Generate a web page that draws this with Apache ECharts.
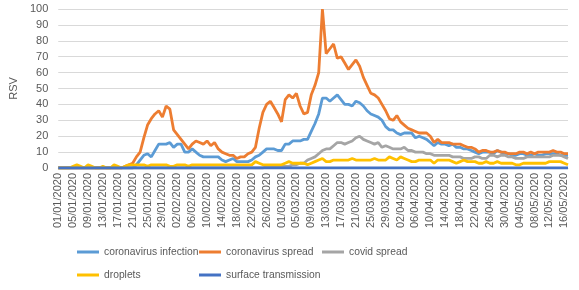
<!DOCTYPE html>
<html>
<head>
<meta charset="utf-8">
<script src="https://cdn.jsdelivr.net/npm/echarts@6/dist/echarts.min.js"></script>
<style>
html,body{margin:0;padding:0;background:#fff;}
#chart{width:579px;height:290px;}
</style>
</head>
<body>
<div id="chart"></div>
<script>
var categories = [
"01/01/2020","02/01/2020","03/01/2020","04/01/2020","05/01/2020","06/01/2020","07/01/2020","08/01/2020","09/01/2020","10/01/2020",
"11/01/2020","12/01/2020","13/01/2020","14/01/2020","15/01/2020","16/01/2020","17/01/2020","18/01/2020","19/01/2020","20/01/2020",
"21/01/2020","22/01/2020","23/01/2020","24/01/2020","25/01/2020","26/01/2020","27/01/2020","28/01/2020","29/01/2020","30/01/2020",
"31/01/2020",
"01/02/2020","02/02/2020","03/02/2020","04/02/2020","05/02/2020","06/02/2020","07/02/2020","08/02/2020","09/02/2020","10/02/2020",
"11/02/2020","12/02/2020","13/02/2020","14/02/2020","15/02/2020","16/02/2020","17/02/2020","18/02/2020","19/02/2020","20/02/2020",
"21/02/2020","22/02/2020","23/02/2020","24/02/2020","25/02/2020","26/02/2020","27/02/2020","28/02/2020","29/02/2020",
"01/03/2020","02/03/2020","03/03/2020","04/03/2020","05/03/2020","06/03/2020","07/03/2020","08/03/2020","09/03/2020","10/03/2020",
"11/03/2020","12/03/2020","13/03/2020","14/03/2020","15/03/2020","16/03/2020","17/03/2020","18/03/2020","19/03/2020","20/03/2020",
"21/03/2020","22/03/2020","23/03/2020","24/03/2020","25/03/2020","26/03/2020","27/03/2020","28/03/2020","29/03/2020","30/03/2020",
"31/03/2020",
"01/04/2020","02/04/2020","03/04/2020","04/04/2020","05/04/2020","06/04/2020","07/04/2020","08/04/2020","09/04/2020","10/04/2020",
"11/04/2020","12/04/2020","13/04/2020","14/04/2020","15/04/2020","16/04/2020","17/04/2020","18/04/2020","19/04/2020","20/04/2020",
"21/04/2020","22/04/2020","23/04/2020","24/04/2020","25/04/2020","26/04/2020","27/04/2020","28/04/2020","29/04/2020","30/04/2020",
"01/05/2020","02/05/2020","03/05/2020","04/05/2020","05/05/2020","06/05/2020","07/05/2020","08/05/2020","09/05/2020","10/05/2020",
"11/05/2020","12/05/2020","13/05/2020","14/05/2020","15/05/2020","16/05/2020","17/05/2020"
];

var seriesNames = ["coronavirus infection","coronavirus spread","covid spread","droplets","surface transmission"];
var seriesColors = ["#5B9BD5","#ED7D31","#A5A5A5","#FFC000","#4472C4"];

var coronavirusInfection = [
0,0,0,0,0,0,0,0,0,0, 0,0,0,0,0,0,0,0,0,0,
0,2,5,8,9,7,11,15,15,15, 16,13,15,15,10,10,12,10,8,7,
7,7,7,7,5,4,5,6,4,4, 4,4,5,7,8,10,12,12,12,11,
11,15,15,17,17,17,18,18,23,28, 34,44,44,42,44,46,43,40,40,39,
42,41,39,36,34,33,32,30,26,24, 24,22,21,22,22,22,19,20,19,18,
16,14,16,15,15,14,15,13,13,12, 12,11,10,9,10,10,10,9,11,10,
9,9,8,8,9,9,8,8,9,8, 8,9,9,9,9,8,8,8
];

var coronavirusSpread = [
0,0,0,0,0,0,0,0,0,0, 0,0,0,0,0,0,0,0,1,2,
3,7,10,19,27,31,34,36,32,39, 37,24,21,18,15,12,15,17,16,15,
17,14,16,12,10,9,8,8,6,7, 7,9,10,13,25,35,40,42,38,34,
29,43,46,44,47,39,34,35,46,52, 60,100,72,75,78,69,70,66,62,65,
68,64,57,52,47,46,44,40,36,31, 30,33,29,27,25,24,23,22,22,22,
20,16,18,16,16,16,15,15,15,14, 13,13,12,10,11,11,10,10,11,10,
10,9,9,9,10,10,9,10,9,10, 10,10,10,11,10,10,9,9
];

var covidSpread = [
0,0,0,0,0,0,0,0,0,0, 0,0,0,0,0,0,0,0,0,0,
0,0,0,0,0,0,0,0,0,0, 0,0,0,0,0,0,0,0,0,0,
0,0,0,0,0,0,0,0,0,0, 0,0,0,0,0,0,1,1,1,1,
1,1,1,2,2,3,3,5,6,7, 9,11,12,12,14,16,16,15,16,17,
19,20,18,17,16,15,16,13,14,13, 12,12,12,13,11,11,10,10,10,9,
9,8,8,8,8,8,7,7,7,6, 6,6,7,7,6,6,8,8,7,8,
8,7,7,6,6,6,7,7,7,7, 7,7,7,8,8,8,7,6
];

var droplets = [
0,0,0,0,1,2,1,0,2,1, 0,0,1,0,0,2,1,0,1,2,
2,2,2,2,1,2,2,2,2,2, 1,1,2,2,2,1,2,2,2,2,
2,2,2,2,2,2,2,2,2,2, 2,2,2,4,3,2,2,2,2,2,
2,3,4,3,3,3,3,2,3,4, 5,6,4,4,5,5,5,5,5,6,
5,5,5,5,5,6,5,5,5,7, 6,5,7,6,5,4,4,5,5,5,
5,3,5,5,5,5,4,3,4,5, 4,4,4,3,3,4,3,3,4,3,
3,3,3,2,2,3,3,3,3,3, 3,3,4,4,4,4,3,2
];

var surfaceTransmission = [
0,0,0,0,0,0,0,0,0,0, 0,0,0,0,0,0,0,0,0,0,
0,0,0,0,0,0,0,0,0,0, 0,0,0,0,0,0,0,0,0,0,
0,0,0,0,0,0,0,0,0,0, 0,0,0,0,0,0,0,0,0,0,
0,0,0,0,0,0,0,0,0,0, 0,0,0,0,0,0,0,0,0,0,
0,0,0,0,0,0,0,0,0,0, 0,0,0,0,0,0,0,0,0,0,
0,0,0,0,0,0,0,0,0,0, 0,0,0,0,0,0,0,0,0,0,
0,0,0,0,0,0,0,0,0,0, 0,0,0,0,0,0,0,0
];

var yTicks = [0,10,20,30,40,50,60,70,80,90,100];

var allData = [coronavirusInfection, coronavirusSpread, covidSpread, droplets, surfaceTransmission];
var FONT = "'Liberation Sans', Arial, sans-serif";

var legendPos = [
  {left: 77, top: 247},
  {left: 199, top: 247},
  {left: 322, top: 247},
  {left: 77, top: 270},
  {left: 199, top: 270}
];

var chart = echarts.init(document.getElementById('chart'), null, {renderer: 'canvas'});
var option = {
  animation: false,
  backgroundColor: '#ffffff',
  grid: {left: 56, right: 11, top: 9, bottom: 122, containLabel: false},
  legend: seriesNames.map(function (n, i) {
    return {
      data: [n],
      left: legendPos[i].left,
      top: legendPos[i].top,
      icon: 'rect',
      itemWidth: 22,
      itemHeight: 3,
      padding: 0,
      textStyle: {fontFamily: FONT, fontSize: 10.3, color: '#595959'}
    };
  }),
  xAxis: {
    type: 'category',
    data: categories,
    boundaryGap: false,
    axisLine: {show: true, lineStyle: {color: '#D9D9D9'}},
    axisTick: {show: false},
    axisLabel: {
      interval: 3,
      rotate: 90,
      margin: 5,
      fontFamily: FONT,
      fontSize: 11,
      color: '#595959'
    },
    splitLine: {show: false}
  },
  yAxis: {
    type: 'value',
    min: yTicks[0],
    max: yTicks[yTicks.length - 1],
    interval: 10,
    name: 'RSV',
    nameLocation: 'middle',
    nameRotate: 90,
    nameGap: 34,
    nameTextStyle: {fontFamily: FONT, fontSize: 11, color: '#595959'},
    axisLine: {show: false},
    axisTick: {show: false},
    axisLabel: {margin: 10, fontFamily: FONT, fontSize: 11, color: '#595959'},
    splitLine: {lineStyle: {color: '#D9D9D9', width: 1}}
  },
  series: seriesNames.map(function (n, i) {
    return {
      name: n,
      type: 'line',
      data: allData[i],
      color: seriesColors[i],
      showSymbol: false,
      symbol: 'none',
      lineStyle: {width: 2.8, color: seriesColors[i]},
      itemStyle: {color: seriesColors[i]},
      emphasis: {disabled: true}
    };
  })
};
chart.setOption(option);
</script>
</body>
</html>
